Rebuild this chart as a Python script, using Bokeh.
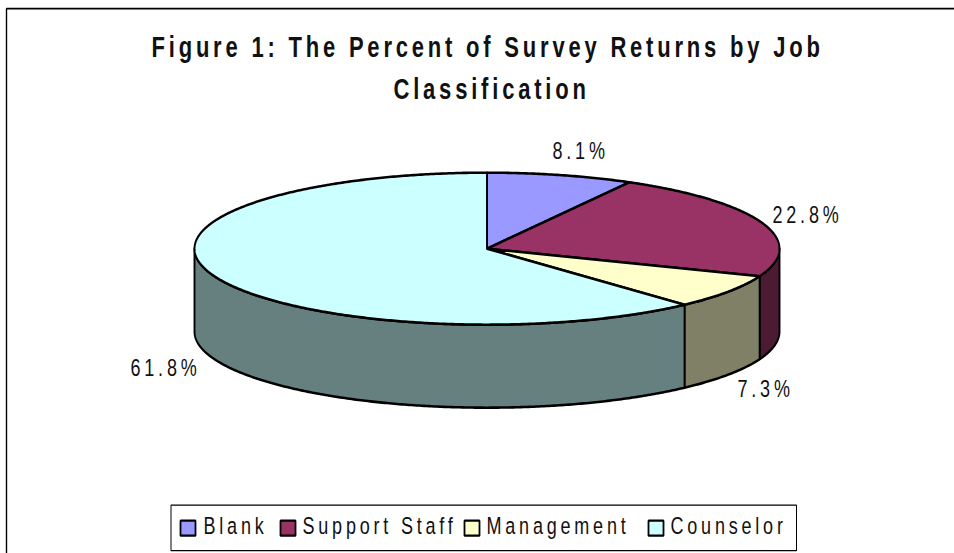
import numpy as np
from bokeh.plotting import figure
from bokeh.models import Range1d
from bokeh.core.properties import value
from bokeh.embed import file_html
from bokeh.resources import INLINE

# --- data ---
categories = ["Blank", "Support Staff", "Management", "Counselor"]
percents = [8.1, 22.8, 7.3, 61.8]
percent_labels = ["8.1%", "22.8%", "7.3%", "61.8%"]
top_colors = ["#9999FF", "#993366", "#FFFFCC", "#CCFFFF"]
wall_colors = ["#4D1A33", "#4D1A33", "#808066", "#668080"]
title_lines = ["Figure 1: The Percent of Survey Returns by Job", "Classification"]

# --- layout ---
W, H = 954, 553
# The original's type is tall and narrow, so the figure is stretched vertically.
# Bokeh sizes its canvas from the already transformed box, hence the square root.
FIG_H = 304
STRETCH = (H / FIG_H) ** 0.5
CX, CY, RX, RY, DEPTH = 486.5, 248.0, 292.5, 76.0, 83.0
FONT = value("Liberation Sans")
LABEL_SIZE = "18px"
TITLE_SIZE = "22px"
SPACING = "3.8px"

p = figure(width=W, height=FIG_H, output_backend="svg", toolbar_location=None,
           x_axis_type=None, y_axis_type=None,
           x_range=Range1d(0, W), y_range=Range1d(H, 0),
           min_border=0, outline_line_color=None, background_fill_color="white",
           border_fill_color="white")
p.styles = {"position": "absolute", "left": "0px", "top": "0px", "letter-spacing": SPACING,
            "transform": f"scale(1, {STRETCH:.5f})", "transform-origin": "0 0"}

# frame (top and left edges are what shows in the crop)
p.line([6, 6, W], [H, 8, 8], line_color="black", line_width=1.4)


def arc(t0, t1, dy=0.0):
    t = np.radians(np.linspace(t0, t1, max(int(abs(t1 - t0) * 2), 2)))
    return CX + RX * np.sin(t), CY - RY * np.cos(t) + dy


edges = np.cumsum([0.0] + percents) / sum(percents) * 360.0

# outer wall: only the front half of the rim (90..270 deg clockwise from top)
wx, wy, wc = [], [], []
for i in range(len(percents)):
    a, b = max(edges[i], 90.0), min(edges[i + 1], 270.0)
    if b <= a:
        continue
    x0, y0 = arc(a, b)
    x1, y1 = arc(b, a, DEPTH)
    wx.append(np.concatenate([x0, x1]))
    wy.append(np.concatenate([y0, y1]))
    wc.append(wall_colors[i])
p.patches(wx, wy, fill_color=wc, line_color="black", line_width=1.9, line_join="round")

# top face
tx, ty = [], []
for i in range(len(percents)):
    x0, y0 = arc(edges[i], edges[i + 1])
    tx.append(np.concatenate([[CX], x0]))
    ty.append(np.concatenate([[CY], y0]))
p.patches(tx, ty, fill_color=top_colors, line_color="black", line_width=1.9, line_join="round")

# percentage labels
label_x = [552, 772, 737, 130]
label_y = [150, 214, 388, 367]
p.text(label_x, label_y, text=percent_labels, text_font=FONT, text_font_size=LABEL_SIZE,
       text_color="#111111", text_align="left", text_baseline="alphabetic")

# title
p.text([151, 393], [46, 88], text=title_lines, text_font=FONT, text_font_size=TITLE_SIZE,
       text_font_style="bold", text_color="#111111", text_align="left", text_baseline="alphabetic")

# legend
p.quad(left=[170.5], right=[796], top=[504.5], bottom=[550], fill_color="white",
       line_color="black", line_width=1.0)
swatch_x = [180, 280, 464, 648]
text_x = [203, 302, 486, 670]
p.quad(left=swatch_x, right=[x + 15 for x in swatch_x], top=[520] * 4, bottom=[535] * 4,
       fill_color=top_colors, line_color="black", line_width=1.8)
p.text(text_x, [525] * 4, text=categories, text_font=FONT, text_font_size=LABEL_SIZE,
       text_color="#111111", text_align="left", text_baseline="alphabetic")

open("out.html", "w").write(file_html(p, INLINE))
